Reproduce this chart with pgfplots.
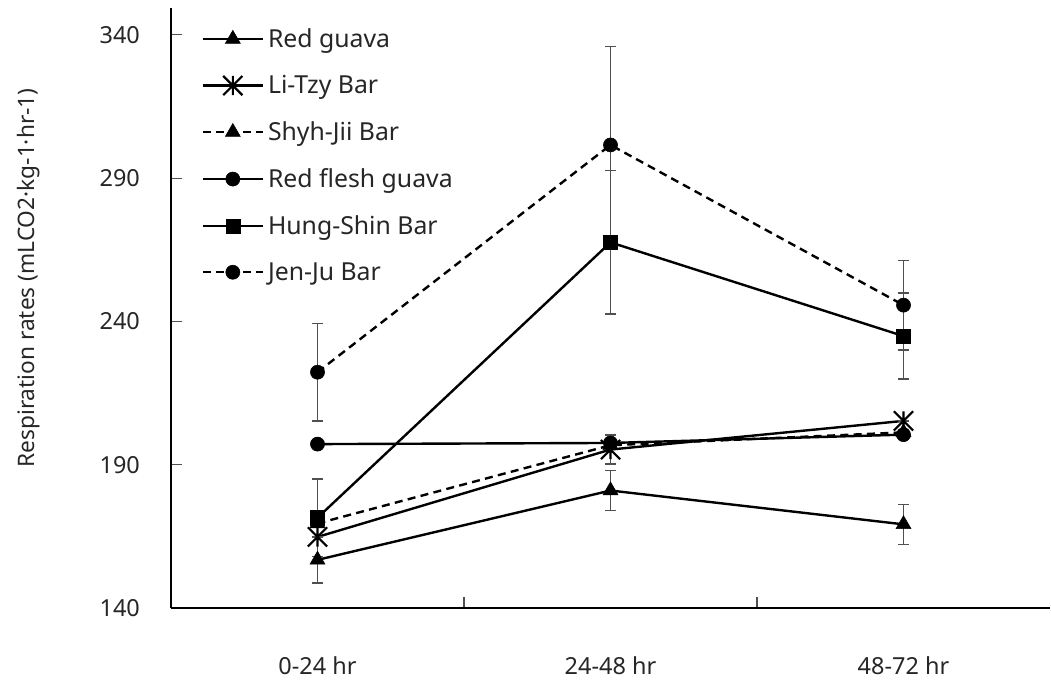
\documentclass[border=0pt]{standalone}
\usepackage{pgfplots}
\usepackage{pgfplotstable}
\pgfplotsset{compat=1.18}
\usepackage{fontspec}
\setmainfont{Noto Sans}

\pgfdeclareplotmark{xstar}{%
  \pgfpathmoveto{\pgfqpoint{0pt}{\pgfplotmarksize}}%
  \pgfpathlineto{\pgfqpoint{0pt}{-\pgfplotmarksize}}%
  \pgfpathmoveto{\pgfqpoint{-\pgfplotmarksize}{-\pgfplotmarksize}}%
  \pgfpathlineto{\pgfqpoint{\pgfplotmarksize}{\pgfplotmarksize}}%
  \pgfpathmoveto{\pgfqpoint{-\pgfplotmarksize}{\pgfplotmarksize}}%
  \pgfpathlineto{\pgfqpoint{\pgfplotmarksize}{-\pgfplotmarksize}}%
  \pgfusepathqstroke
}

\pgfplotstableread{
x y e
0 156.8 8
1 181.0 7
2 169.2 7
}\redguava
\pgfplotstableread{
x y e
0 164.8 0
1 195.3 5
2 205.3 0
}\litzy
\pgfplotstableread{
x y e
0 169.5 0
1 196.8 0
2 201.3 0
}\shyhjii
\pgfplotstableread{
x y e
0 197.2 0
1 197.6 0
2 200.5 0
}\redflesh
\pgfplotstableread{
x y e
0 171.5 13.5
1 267.6 25
2 234.9 15
}\hungshin
\pgfplotstableread{
x y e
0 222.3 17
1 301.6 34.3
2 245.7 15.6
}\jenju

\definecolor{errc}{RGB}{80,80,80}

\begin{document}
\begin{tikzpicture}
\begin{axis}[
  scale only axis,
  width=659.25pt, height=450pt,
  xmin=-0.5, xmax=2.5,
  ymin=140, ymax=349.4,
  axis x line=bottom, axis y line=left,
  axis line style={-, line width=1.5pt, black},
  xtick={0,1,2},
  xticklabels={0-24 hr, 24-48 hr, 48-72 hr},
  minor xtick={0.5,1.5},
  major x tick style={draw=none},
  minor x tick style={line width=0.8pt, errc},
  minor tick length=8pt,
  ytick={140,190,240,290,340},
  y tick style={line width=0.8pt, errc},
  major tick length=8pt,
  tick align=inside,
  /pgf/number format/assume math mode=true,
  tick label style={font=\fontsize{17.6}{20}\selectfont, text=black!85},
  xticklabel style={anchor=base, yshift=-49.5pt},
  yticklabel style={anchor=east, xshift=-19.8pt},
  ylabel={Respiration rates (mLCO2·kg-1·hr-1)},
  ylabel style={font=\fontsize{17}{20}\selectfont, text=black!85, at={(axis description cs:-0.1615,0.55)}, anchor=center},
  clip=false,
  legend cell align=left,
  legend style={at={(axis description cs:0.03,0.975)}, anchor=north west, draw=none, fill=none,
    font=\fontsize{18.6}{21}\selectfont, row sep=15.5pt, text=black!85, nodes={inner xsep=3pt}},
  legend image code/.code={\draw[mark repeat=2,mark phase=2,#1] plot coordinates {(0pt,0pt) (22.5pt,0pt) (45pt,0pt)};},
  error bars/error bar style={line width=1.1pt, errc, solid},
  error bars/error mark options={rotate=90, mark size=4pt, line width=1.1pt, errc},
]
\addplot[black, line width=1.8pt, mark=triangle*, mark size=6.5pt, mark options={solid, line width=0.4pt},
  error bars/.cd, y dir=both, y explicit] table[x=x, y=y, y error=e]{\redguava};
\addlegendentry{Red guava}
\addplot[black, line width=1.8pt, mark=xstar, mark size=7.2pt, mark options={solid, line width=1.6pt},
  error bars/.cd, y dir=both, y explicit] table[x=x, y=y, y error=e]{\litzy};
\addlegendentry{Li-Tzy Bar}
\addplot[black, line width=1.8pt, dashed, dash pattern=on 6pt off 4pt, mark=triangle*, mark size=6.5pt, mark options={solid, line width=0.4pt}]
  table[x=x, y=y]{\shyhjii};
\addlegendentry{Shyh-Jii Bar}
\addplot[black, line width=1.8pt, mark=*, mark size=5.3pt, mark options={solid, line width=0.4pt}]
  table[x=x, y=y]{\redflesh};
\addlegendentry{Red flesh guava}
\addplot[black, line width=1.8pt, mark=square*, mark size=5.3pt, mark options={solid, line width=0.4pt},
  error bars/.cd, y dir=both, y explicit] table[x=x, y=y, y error=e]{\hungshin};
\addlegendentry{Hung-Shin Bar}
\addplot[black, line width=1.8pt, dash pattern=on 6pt off 4pt, mark=*, mark size=5.3pt, mark options={solid, line width=0.4pt},
  error bars/.cd, y dir=both, y explicit] table[x=x, y=y, y error=e]{\jenju};
\addlegendentry{Jen-Ju Bar}
\end{axis}
\path (current axis.south west) ++(-128.25pt,-53.25pt) coordinate (bbA);
\path (current axis.north east) ++(0.75pt,6pt) coordinate (bbB);
\path (bbA) rectangle (bbB);
\end{tikzpicture}
\end{document}
